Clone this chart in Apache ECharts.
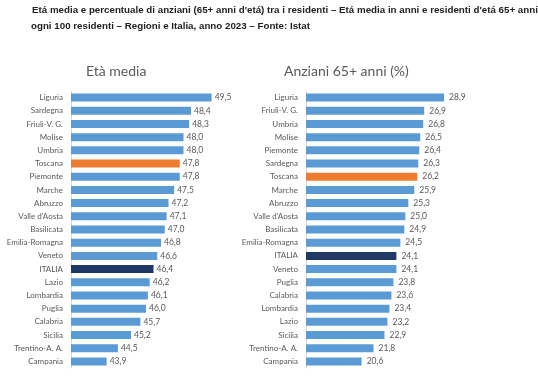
<!DOCTYPE html>
<html><head><meta charset="utf-8">
<script src="https://cdn.jsdelivr.net/npm/echarts@6/dist/echarts.min.js"></script>
<style>html,body{margin:0;padding:0;background:#fff}#c{width:538px;height:380px}</style>
</head><body><div id="c"></div>
<script>
const titleLine1 = "Etá media e percentuale di anziani (65+ anni d'etá) tra i residenti – Etá media in anni e residenti d'etá 65+ anni";
const titleLine2 = "ogni 100 residenti – Regioni e Italia, anno 2023 – Fonte: Istat";
const leftTitle = "Età media";
const rightTitle = "Anziani 65+ anni (%)";

const ageRegions = ["Liguria","Sardegna","Friuli-V. G.","Molise","Umbria","Toscana","Piemonte","Marche","Abruzzo","Valle d'Aosta","Basilicata","Emilia-Romagna","Veneto","ITALIA","Lazio","Lombardia","Puglia","Calabria","Sicilia","Trentino-A. A.","Campania"];
const ageValues = [49.5,48.4,48.3,48.0,48.0,47.8,47.8,47.5,47.2,47.1,47.0,46.8,46.6,46.4,46.2,46.1,46.0,45.7,45.2,44.5,43.9];

const oldRegions = ["Liguria","Friuli-V. G.","Umbria","Molise","Piemonte","Sardegna","Toscana","Marche","Abruzzo","Valle d'Aosta","Basilicata","Emilia-Romagna","ITALIA","Veneto","Puglia","Calabria","Lombardia","Lazio","Sicilia","Trentino-A. A.","Campania"];
const oldValues = [28.9,26.9,26.8,26.5,26.4,26.3,26.2,25.9,25.3,25.0,24.9,24.5,24.1,24.1,23.8,23.6,23.4,23.2,22.9,21.8,20.6];

const BLUE = '#5b9bd5', ORANGE = '#ed7d31', NAVY = '#1f3864';
function colorFor(name){ return name === 'Toscana' ? ORANGE : (name === 'ITALIA' ? NAVY : BLUE); }
function items(names, vals){ return vals.map((v,i)=>({value:v, itemStyle:{color:colorFor(names[i])}})); }
const fmt = p => p.value.toFixed(1).replace('.', ',');

const labelFont = 'Lato, "Open Sans", sans-serif';
const titleFont = '"Liberation Sans", Arial, sans-serif';
const chart = echarts.init(document.getElementById('c'), null, {renderer:'canvas'});
const gridTop = 91, gridH = 277;
chart.setOption({
  animation:false,
  backgroundColor:'#fff',
  title:[
    {text:titleLine1, left:32, top:5, padding:0, textStyle:{fontFamily:titleFont, fontSize:9.75, fontWeight:'bold', color:'#222'}},
    {text:titleLine2, left:31, top:21, padding:0, textStyle:{fontFamily:titleFont, fontSize:9.75, fontWeight:'bold', color:'#222'}},
    {text:leftTitle, left:86, top:64, padding:0, textStyle:{fontFamily:labelFont, fontSize:14, fontWeight:'normal', color:'#595959'}},
    {text:rightTitle, left:284, top:64, padding:0, textStyle:{fontFamily:labelFont, fontSize:14, fontWeight:'normal', color:'#595959'}}
  ],
  grid:[
    {left:71, top:gridTop, width:150, height:gridH},
    {left:306, top:gridTop, width:149, height:gridH}
  ],
  xAxis:[
    {gridIndex:0, type:'value', min:42, max:50, show:false},
    {gridIndex:1, type:'value', min:15, max:30, show:false}
  ],
  yAxis:[
    {gridIndex:0, type:'category', data:ageRegions, inverse:true,
     axisLine:{lineStyle:{color:'#d9d9d9'}}, axisTick:{show:false},
     axisLabel:{fontFamily:labelFont, fontSize:8, color:'#595959', margin:8}},
    {gridIndex:1, type:'category', data:oldRegions, inverse:true,
     axisLine:{lineStyle:{color:'#d9d9d9'}}, axisTick:{show:false},
     axisLabel:{fontFamily:labelFont, fontSize:8, color:'#595959', margin:8}}
  ],
  series:[
    {type:'bar', xAxisIndex:0, yAxisIndex:0, data:items(ageRegions, ageValues), barWidth:8,
     label:{show:true, position:'right', distance:3, formatter:fmt, fontFamily:labelFont, fontSize:8.5, color:'#595959'}},
    {type:'bar', xAxisIndex:1, yAxisIndex:1, data:items(oldRegions, oldValues), barWidth:8,
     label:{show:true, position:'right', distance:5, formatter:fmt, fontFamily:labelFont, fontSize:8.5, color:'#595959'}}
  ]
});
</script></body></html>
